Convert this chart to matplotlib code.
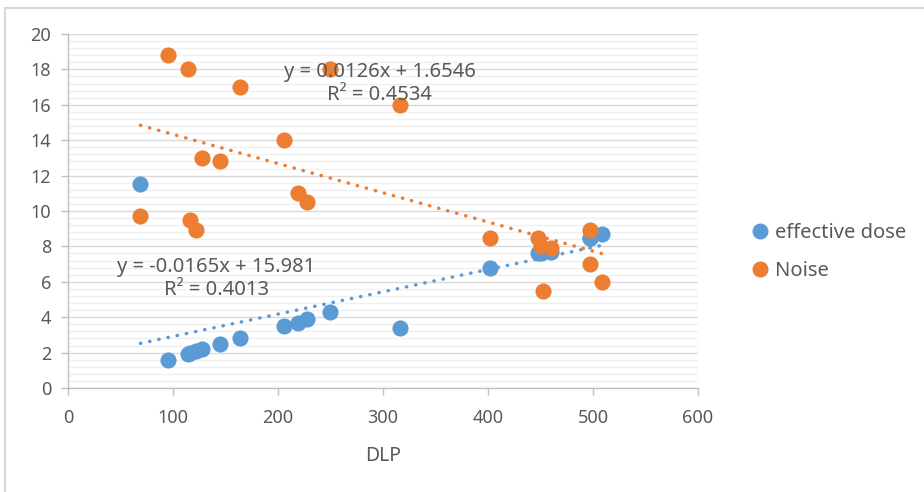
import numpy as np
import matplotlib
matplotlib.use('Agg')
import matplotlib.pyplot as plt
from matplotlib.patches import Rectangle
from matplotlib.lines import Line2D

plt.rcParams['font.family'] = ['Noto Sans', 'DejaVu Sans']

# --- data ---
dlp = [69, 95, 114, 116, 122, 128, 145, 164, 206, 219, 228, 250, 316,
       402, 448, 450, 452, 460, 497, 497, 509]
effective_dose = [11.5, 1.6, 1.9, 2.0, 2.1, 2.2, 2.5, 2.8, 3.5, 3.7, 3.9, 4.3, 3.4,
                  6.8, 7.6, 7.6, 7.7, 7.7, 8.5, 8.5, 8.7]
noise = [9.7, 18.8, 18.0, 9.5, 8.9, 13.0, 12.8, 17.0, 14.0, 11.0, 10.5, 18.0, 16.0,
         8.5, 8.5, 8.0, 5.5, 7.9, 8.9, 7.0, 6.0]

# trendline coefficients (slope, intercept) as printed on the chart
dose_fit = (0.0126, 1.6546)
noise_fit = (-0.0165, 15.981)
dose_label = 'y = 0.0126x + 1.6546\nR² = 0.4534'
noise_label = 'y = -0.0165x + 15.981\nR² = 0.4013'

blue = '#5B9BD5'
orange = '#ED7D31'
text_gray = '#595959'

fig = plt.figure(figsize=(9.24, 4.92), dpi=100)
# outer chart frame
fig.patches.append(Rectangle((5 / 924, -0.1), 1.0, 1.1 - 8 / 492, transform=fig.transFigure,
                             fill=False, edgecolor='#D9D9D9', linewidth=1.5))
ax = fig.add_axes([68 / 924, 1 - 388 / 492, 630 / 924, 354 / 492])

ax.set_xlim(0, 600)
ax.set_ylim(0, 20)
ax.set_xticks(np.arange(0, 601, 100))
ax.set_yticks(np.arange(0, 21, 2))
ax.set_yticks(np.arange(0, 20.01, 0.4), minor=True)
ax.grid(True, which='major', axis='y', color='#D9D9D9', linewidth=1.0)
ax.grid(True, which='minor', axis='y', color='#EFEFEF', linewidth=0.9)
ax.set_axisbelow(True)

for s in ['top', 'right']:
    ax.spines[s].set_visible(False)
for s in ['left', 'bottom']:
    ax.spines[s].set_color('#BFBFBF')
    ax.spines[s].set_linewidth(1.0)
ax.tick_params(axis='both', which='major', colors='#BFBFBF', length=5, width=1,
               labelcolor=text_gray, labelsize=13)
ax.tick_params(axis='y', which='minor', length=0)
ax.tick_params(axis='x', pad=10)
ax.tick_params(axis='y', pad=7)

x = np.array(dlp, dtype=float)
xs = np.array([x.min(), x.max()])

ax.scatter(dlp, effective_dose, s=135, color=blue, zorder=3, linewidths=0)
ax.scatter(dlp, noise, s=135, color=orange, zorder=3, linewidths=0)

ax.plot(xs, dose_fit[0] * xs + dose_fit[1], color=blue, linewidth=2.5,
        linestyle=(0, (0.1, 2.6)), dash_capstyle='round', zorder=2)
ax.plot(xs, noise_fit[0] * xs + noise_fit[1], color=orange, linewidth=2.5,
        linestyle=(0, (0.1, 2.6)), dash_capstyle='round', zorder=2)

ax.text(297, 17.2, dose_label, ha='center', va='center', fontsize=14.5,
        color=text_gray, linespacing=1.2, multialignment='center', zorder=4)
ax.text(141, 6.2, noise_label, ha='center', va='center', fontsize=14.5,
        color=text_gray, linespacing=1.2, multialignment='center', zorder=4)

ax.set_xlabel('DLP', fontsize=14, color=text_gray, labelpad=14)

handles = [Line2D([], [], marker='o', linestyle='', color=blue, markersize=10.5),
           Line2D([], [], marker='o', linestyle='', color=orange, markersize=10.5)]
fig.legend(handles, ['effective dose', 'Noise'], loc='center left',
           bbox_to_anchor=(750 / 924, 1 - 252 / 492), frameon=False, fontsize=14.5,
           labelcolor=text_gray, handlelength=1.0, handletextpad=0.25,
           labelspacing=0.9, borderaxespad=0, borderpad=0)

fig.savefig('out.png', dpi=100)
